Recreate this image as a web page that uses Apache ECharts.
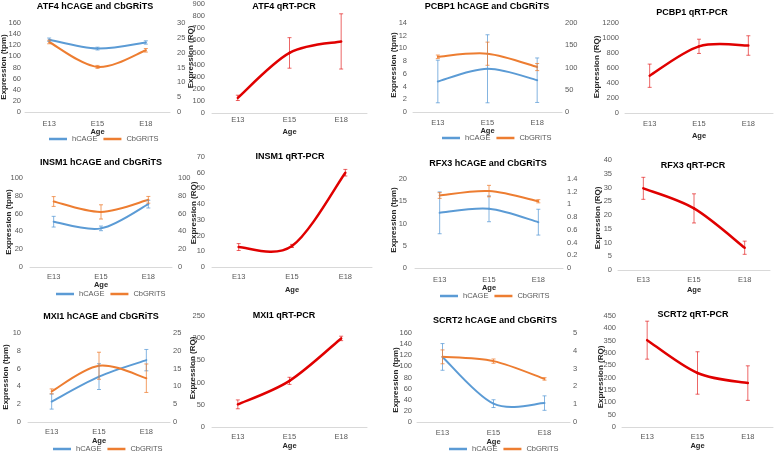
<!DOCTYPE html>
<html><head><meta charset="utf-8">
<script src="https://cdn.jsdelivr.net/npm/echarts@6/dist/echarts.min.js"></script>
<style>html,body{margin:0;padding:0;background:#fff}#c{width:778px;height:453px}</style>
</head><body><div id="c"></div>
<script>
// ---------- data ----------
const categories = ['E13', 'E15', 'E18'];

// ATF4
const atf4Hcage = [130, 114, 125];
const atf4HcageErr = [3, 2.5, 3];
const atf4Cbgrits = [23.6, 15.2, 20.8];
const atf4CbgritsErr = [0.6, 0.5, 0.6];
const atf4Qrt = [125, 496, 591];
const atf4QrtErr = [22, 126, 228];
const atf4LeftTicks = [0, 160, 20];
const atf4RightTicks = [0, 30, 5];
const atf4QrtTicks = [0, 900, 100];

// PCBP1
const pcbp1Hcage = [4.8, 6.8, 5.0];
const pcbp1HcageErr = [3.35, 5.35, 3.5];
const pcbp1Cbgrits = [124, 131, 101];
const pcbp1CbgritsErr = [4, 26, 8];
const pcbp1Qrt = [497, 889, 900];
const pcbp1QrtErr = [155, 95, 130];
const pcbp1LeftTicks = [0, 14, 2];
const pcbp1RightTicks = [0, 200, 50];
const pcbp1QrtTicks = [0, 1200, 200];

// INSM1
const insm1Hcage = [50.9, 43.4, 70.6];
const insm1HcageErr = [6, 2.6, 4.3];
const insm1Cbgrits = [73.6, 61.9, 75.5];
const insm1CbgritsErr = [5.5, 8, 3.8];
const insm1Qrt = [12.7, 13.4, 60.0];
const insm1QrtErr = [2.2, 1, 2.1];
const insm1LeftTicks = [0, 100, 20];
const insm1RightTicks = [0, 100, 20];
const insm1QrtTicks = [0, 70, 10];

// RFX3
const rfx3Hcage = [12.4, 13.3, 10.3];
const rfx3HcageErr = [4.7, 2.9, 2.9];
const rfx3Cbgrits = [1.14, 1.21, 1.05];
const rfx3CbgritsErr = [0.045, 0.09, 0.025];
const rfx3Qrt = [29.7, 22.4, 8.1];
const rfx3QrtErr = [4, 5.3, 2.4];
const rfx3LeftTicks = [0, 20, 5];
const rfx3RightTicks = [0, 1.4, 0.2];
const rfx3QrtTicks = [0, 40, 5];

// MXI1
const mxi1Hcage = [2.3, 5.1, 6.95];
const mxi1HcageErr = [0.85, 1.45, 1.2];
const mxi1Cbgrits = [8.6, 15.8, 12.3];
const mxi1CbgritsErr = [0.7, 3.8, 4.0];
const mxi1Qrt = [51, 104, 199.5];
const mxi1QrtErr = [10, 8, 5];
const mxi1LeftTicks = [0, 10, 2];
const mxi1RightTicks = [0, 25, 5];
const mxi1QrtTicks = [0, 250, 50];

// SCRT2
const scrt2Hcage = [117, 33, 34];
const scrt2HcageErr = [24, 7, 13];
const scrt2Cbgrits = [3.66, 3.42, 2.42];
const scrt2CbgritsErr = [0.39, 0.12, 0.07];
const scrt2Qrt = [352, 219, 178];
const scrt2QrtErr = [77, 86, 70];
const scrt2LeftTicks = [0, 160, 20];
const scrt2RightTicks = [0, 5, 1];
const scrt2QrtTicks = [0, 450, 50];

// ---------- styles / layout ----------
const FONT = "'Liberation Sans', Arial, sans-serif";
const NARROW = "'Liberation Sans Narrow', 'Liberation Sans', Arial, sans-serif";
const BLUE = '#5B9BD5', ORANGE = '#ED7D31', RED = '#E00000';
const BLUE_E = 'rgba(91,155,213,0.75)', ORANGE_E = 'rgba(237,125,49,0.75)', RED_E = 'rgba(224,0,0,0.6)';

const hcagePanels = [
  {title: 'ATF4 hCAGE and CbGRiTS', h: atf4Hcage, he: atf4HcageErr, c: atf4Cbgrits, ce: atf4CbgritsErr, lt: atf4LeftTicks, rt: atf4RightTicks,
   L: {grid: [25, 23, 145, 89], t: [95, 7], yn: [4, 67], cm: 7.5, ng: 14, ylm: 4, yrm: 7, lg: [49, 139]}},
  {title: 'PCBP1 hCAGE and CbGRiTS', h: pcbp1Hcage, he: pcbp1HcageErr, c: pcbp1Cbgrits, ce: pcbp1CbgritsErr, lt: pcbp1LeftTicks, rt: pcbp1RightTicks,
   L: {grid: [413, 23, 149, 89], t: [487, 7], yn: [394, 65], cm: 6.5, ng: 13, ylm: 6, yrm: 3, lg: [442, 138]}},
  {title: 'INSM1 hCAGE and CbGRiTS', h: insm1Hcage, he: insm1HcageErr, c: insm1Cbgrits, ce: insm1CbgritsErr, lt: insm1LeftTicks, rt: insm1RightTicks,
   L: {grid: [30, 178, 142, 89], t: [101, 163], yn: [9, 222], cm: 5.5, ng: 14, ylm: 7, yrm: 6, lg: [56, 294]}},
  {title: 'RFX3 hCAGE and CbGRiTS', h: rfx3Hcage, he: rfx3HcageErr, c: rfx3Cbgrits, ce: rfx3CbgritsErr, lt: rfx3LeftTicks, rt: rfx3RightTicks,
   L: {grid: [415, 179, 148, 89], t: [488, 164], yn: [394, 220], cm: 7.5, ng: 15, ylm: 8, yrm: 4, lg: [440, 296]}},
  {title: 'MXI1 hCAGE and CbGRiTS', h: mxi1Hcage, he: mxi1HcageErr, c: mxi1Cbgrits, ce: mxi1CbgritsErr, lt: mxi1LeftTicks, rt: mxi1RightTicks,
   L: {grid: [28, 333, 142, 89], t: [101, 317], yn: [6, 377], cm: 6, ng: 13.5, ylm: 7, yrm: 3, lg: [53, 449]}},
  {title: 'SCRT2 hCAGE and CbGRiTS', h: scrt2Hcage, he: scrt2HcageErr, c: scrt2Cbgrits, ce: scrt2CbgritsErr, lt: scrt2LeftTicks, rt: scrt2RightTicks,
   L: {grid: [417, 333, 153, 89], t: [495, 321], yn: [396, 380], cm: 7, ng: 15, ylm: 5, yrm: 3, lg: [449, 449]}}
];

const qrtPanels = [
  {title: 'ATF4 qRT-PCR', q: atf4Qrt, qe: atf4QrtErr, ticks: atf4QrtTicks,
   L: {grid: [212, 2, 155, 111], t: [284, 7], yn: [191, 57], cm: 3, ng: 15, ylm: 7}},
  {title: 'PCBP1 qRT-PCR', q: pcbp1Qrt, qe: pcbp1QrtErr, ticks: pcbp1QrtTicks,
   L: {grid: [625, 23, 148, 90], t: [692, 13], yn: [597, 67], cm: 6.5, ng: 19, ylm: 6}},
  {title: 'INSM1 qRT-PCR', q: insm1Qrt, qe: insm1QrtErr, ticks: insm1QrtTicks,
   L: {grid: [212, 157, 160, 110], t: [290, 157], yn: [194, 213], cm: 5.5, ng: 19, ylm: 7}},
  {title: 'RFX3 qRT-PCR', q: rfx3Qrt, qe: rfx3QrtErr, ticks: rfx3QrtTicks,
   L: {grid: [618, 160, 152, 110], t: [693, 166], yn: [598, 218], cm: 5.5, ng: 15.5, ylm: 6}},
  {title: 'MXI1 qRT-PCR', q: mxi1Qrt, qe: mxi1QrtErr, ticks: mxi1QrtTicks,
   L: {grid: [212, 316, 155, 111], t: [284, 316], yn: [193, 368], cm: 6, ng: 14, ylm: 7}},
  {title: 'SCRT2 qRT-PCR', q: scrt2Qrt, qe: scrt2QrtErr, ticks: scrt2QrtTicks,
   L: {grid: [622, 316, 151, 111], t: [693, 315], yn: [601, 377], cm: 6, ng: 15, ylm: 6}}
];

// ---------- build ----------
const option = {animation: false, backgroundColor: '#fff', grid: [], xAxis: [], yAxis: [], series: [], legend: [], graphic: []};

function errRender(color, cap) {
  return function (params, api) {
    const x = api.value(0);
    const a = api.coord([x, api.value(1)]);
    const b = api.coord([x, api.value(2)]);
    const st = {stroke: color, lineWidth: 1};
    return {type: 'group', children: [
      {type: 'line', shape: {x1: a[0], y1: a[1], x2: b[0], y2: b[1]}, style: st},
      {type: 'line', shape: {x1: a[0] - cap, y1: a[1], x2: a[0] + cap, y2: a[1]}, style: st},
      {type: 'line', shape: {x1: b[0] - cap, y1: b[1], x2: b[0] + cap, y2: b[1]}, style: st}
    ]};
  };
}

// Excel-style smoothed line (Catmull-Rom Bezier) through the data points, via the axis scales
function curveRender(vals, color, width) {
  return function (params, api) {
    const i = params.dataIndex;
    const n = vals.length;
    if (i >= n - 1) return {type: 'group', children: []};
    const P = k => api.coord([Math.max(0, Math.min(n - 1, k)), vals[Math.max(0, Math.min(n - 1, k))]]);
    const p0 = P(i - 1), p1 = P(i), p2 = P(i + 1), p3 = P(i + 2);
    return {
      type: 'bezierCurve',
      shape: {
        x1: p1[0], y1: p1[1], x2: p2[0], y2: p2[1],
        cpx1: p1[0] + (p2[0] - p0[0]) / 6, cpy1: p1[1] + (p2[1] - p0[1]) / 6,
        cpx2: p2[0] - (p3[0] - p1[0]) / 6, cpy2: p2[1] - (p3[1] - p1[1]) / 6
      },
      style: {stroke: color, lineWidth: width, fill: null, lineCap: 'round'}
    };
  };
}

function errData(v, e) { return v.map((val, k) => [k, val - e[k], val + e[k]]); }
function ptData(v) { return v.map((val, k) => [k, val]); }

function addFrame(L, title, yname) {
  const gi = option.grid.length;
  option.grid.push({left: L.grid[0], top: L.grid[1], width: L.grid[2], height: L.grid[3]});
  option.xAxis.push({
    type: 'category', gridIndex: gi, data: categories, boundaryGap: true,
    axisLine: {lineStyle: {color: '#d9d9d9', width: 1}}, axisTick: {show: false},
    axisLabel: {fontSize: 7.5, color: '#595959', margin: L.cm, fontFamily: NARROW},
    name: 'Age', nameLocation: 'middle', nameGap: L.ng,
    nameTextStyle: {fontWeight: 'bold', fontSize: 7.5, color: '#262626', fontFamily: FONT}
  });
  option.graphic.push({type: 'text', x: L.t[0], y: L.t[1], silent: true,
    style: {text: title, font: 'bold 9px ' + FONT, fill: '#000', align: 'center', verticalAlign: 'middle'}});
  option.graphic.push({type: 'text', x: L.yn[0], y: L.yn[1], rotation: Math.PI / 2, silent: true,
    style: {text: yname, font: 'bold 8px ' + FONT, fill: '#262626', align: 'center', verticalAlign: 'middle'}});
  return gi;
}

function valueAxis(gi, ticks, pos, margin) {
  option.yAxis.push({
    type: 'value', gridIndex: gi, position: pos, min: ticks[0], max: ticks[1], interval: ticks[2],
    axisLine: {show: false}, axisTick: {show: false}, splitLine: {show: false},
    axisLabel: {fontSize: 7.5, color: '#595959', margin: margin, fontFamily: NARROW,
      formatter: v => String(Math.round(v * 1000) / 1000)}
  });
  return option.yAxis.length - 1;
}

function addCurve(name, gi, yi, vals, color, width) {
  option.series.push({type: 'custom', name: name, xAxisIndex: gi, yAxisIndex: yi, data: ptData(vals),
    encode: {x: 0, y: 1}, renderItem: curveRender(vals, color, width), itemStyle: {color: color}, silent: true, z: 2});
}

hcagePanels.forEach(p => {
  const gi = addFrame(p.L, p.title, 'Expression (tpm)');
  const yl = valueAxis(gi, p.lt, 'left', p.L.ylm);
  const yr = valueAxis(gi, p.rt, 'right', p.L.yrm);
  option.series.push({type: 'custom', xAxisIndex: gi, yAxisIndex: yl, data: errData(p.h, p.he), encode: {x: 0, y: [1, 2]}, renderItem: errRender(BLUE_E, 2), silent: true, z: 3});
  option.series.push({type: 'custom', xAxisIndex: gi, yAxisIndex: yr, data: errData(p.c, p.ce), encode: {x: 0, y: [1, 2]}, renderItem: errRender(ORANGE_E, 2), silent: true, z: 3});
  addCurve('hCAGE', gi, yl, p.h, BLUE, 2);
  addCurve('CbGRiTS', gi, yr, p.c, ORANGE, 2);
  option.legend.push({left: p.L.lg[0], top: p.L.lg[1] - 4.5, padding: 0, icon: 'rect', itemWidth: 18, itemHeight: 2.5, itemGap: 6,
    data: [{name: 'hCAGE', itemStyle: {color: BLUE}}, {name: 'CbGRiTS', itemStyle: {color: ORANGE}}], selectedMode: false,
    textStyle: {fontSize: 7.5, color: '#595959', fontFamily: NARROW, lineHeight: 9}});
});

qrtPanels.forEach(p => {
  const gi = addFrame(p.L, p.title, 'Expression (RQ)');
  const y = valueAxis(gi, p.ticks, 'left', p.L.ylm);
  option.series.push({type: 'custom', xAxisIndex: gi, yAxisIndex: y, data: errData(p.q, p.qe), encode: {x: 0, y: [1, 2]}, renderItem: errRender(RED_E, 2), silent: true, z: 3});
  addCurve(p.title, gi, y, p.q, RED, 2.5);
});

const chart = echarts.init(document.getElementById('c'), null, {renderer: 'canvas'});
chart.setOption(option);
</script>
</body></html>
